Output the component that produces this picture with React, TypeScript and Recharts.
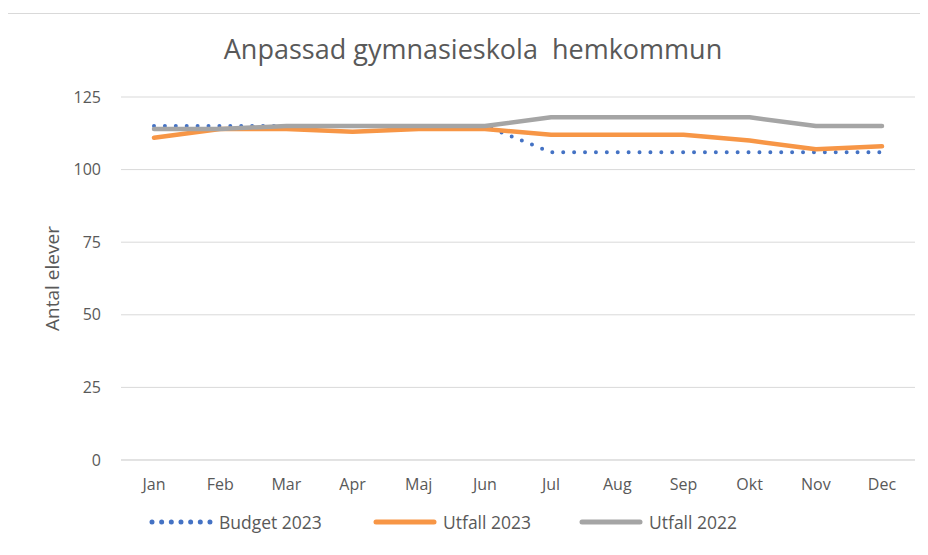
import React from 'react';
import { LineChart, Line, XAxis, YAxis, CartesianGrid, Legend } from 'recharts';

const months = ['Jan', 'Feb', 'Mar', 'Apr', 'Maj', 'Jun', 'Jul', 'Aug', 'Sep', 'Okt', 'Nov', 'Dec'];
const budget2023 = [115, 115, 115, 115, 115, 115, 106, 106, 106, 106, 106, 106];
const utfall2023 = [111, 114, 114, 113, 114, 114, 112, 112, 112, 110, 107, 108];
const utfall2022 = [114, 114, 115, 115, 115, 115, 118, 118, 118, 118, 115, 115];
const yTicks = [0, 25, 50, 75, 100, 125];

const data = months.map((m, i) => ({
  month: m,
  budget: budget2023[i],
  u2023: utfall2023[i],
  u2022: utfall2022[i],
}));

const textColor = '#595959';
const font = '"Open Sans", Lato, sans-serif';

const series = [
  { key: 'budget', name: 'Budget 2023', color: '#4472C4', dotted: true, w: 224 },
  { key: 'u2023', name: 'Utfall 2023', color: '#F79646', dotted: false, w: 206 },
  { key: 'u2022', name: 'Utfall 2022', color: '#A5A5A5', dotted: false, w: 180 },
];

const LegendContent = () => (
  <div style={{ display: 'flex', justifyContent: 'flex-start', paddingLeft: 108, fontFamily: font, fontSize: 17.5, color: textColor }}>
    {series.map((s) => (
      <div key={s.key} style={{ display: 'flex', alignItems: 'center', width: s.w }}>
        <svg width={66} height={10}>
          <line x1={4} y1={5} x2={62} y2={5} stroke={s.color} strokeWidth={5}
            strokeLinecap="round" strokeDasharray={s.dotted ? '0 9.66' : undefined} />
        </svg>
        <span style={{ marginLeft: 5 }}>{s.name}</span>
      </div>
    ))}
  </div>
);

export default function App() {
  return (
    <div style={{ position: 'relative', width: 928, height: 555, margin: -8, background: '#fff', overflow: 'hidden' }}>
      <div style={{ position: 'absolute', left: 4, top: 13, width: 960, height: 600, border: '1px solid #d9d9d9' }} />
      <div style={{ position: 'absolute', left: 0, top: 30, width: 946, textAlign: 'center', fontFamily: font, fontSize: 27, color: textColor }}>
        Anpassad gymnasieskola&nbsp;&nbsp;hemkommun
      </div>
      <div style={{ position: 'absolute', left: 0, top: 0 }}>
        <LineChart width={928} height={555} data={data} margin={{ top: 97, right: 13, left: 40, bottom: 10 }}>
          <CartesianGrid vertical={false} stroke="#d9d9d9" strokeWidth={1} />
          <XAxis dataKey="month" axisLine={{ stroke: '#d9d9d9' }} tickLine={false} padding={{ left: 33, right: 33 }}
            tick={{ fill: textColor, fontSize: 16, fontFamily: font }} height={50} tickMargin={13} />
          <YAxis width={81} domain={[0, 125]} ticks={yTicks} axisLine={false} tickLine={false}
            tick={{ fill: textColor, fontSize: 16, fontFamily: font }} tickMargin={14}
            label={{ value: 'Antal elever', angle: -90, position: 'insideLeft', offset: 12, fill: textColor, fontSize: 19, fontFamily: font, style: { textAnchor: 'middle' } }} />
          <Legend verticalAlign="bottom" height={35} content={<LegendContent />} />
          {series.map((s) => (
            <Line key={s.key} type="linear" dataKey={s.key} name={s.name} stroke={s.color}
              strokeWidth={s.dotted ? 4 : 4.5} strokeLinecap="round" strokeLinejoin="round"
              strokeDasharray={s.dotted ? '0 10.9' : undefined} dot={false} isAnimationActive={false} />
          ))}
        </LineChart>
      </div>
    </div>
  );
}
